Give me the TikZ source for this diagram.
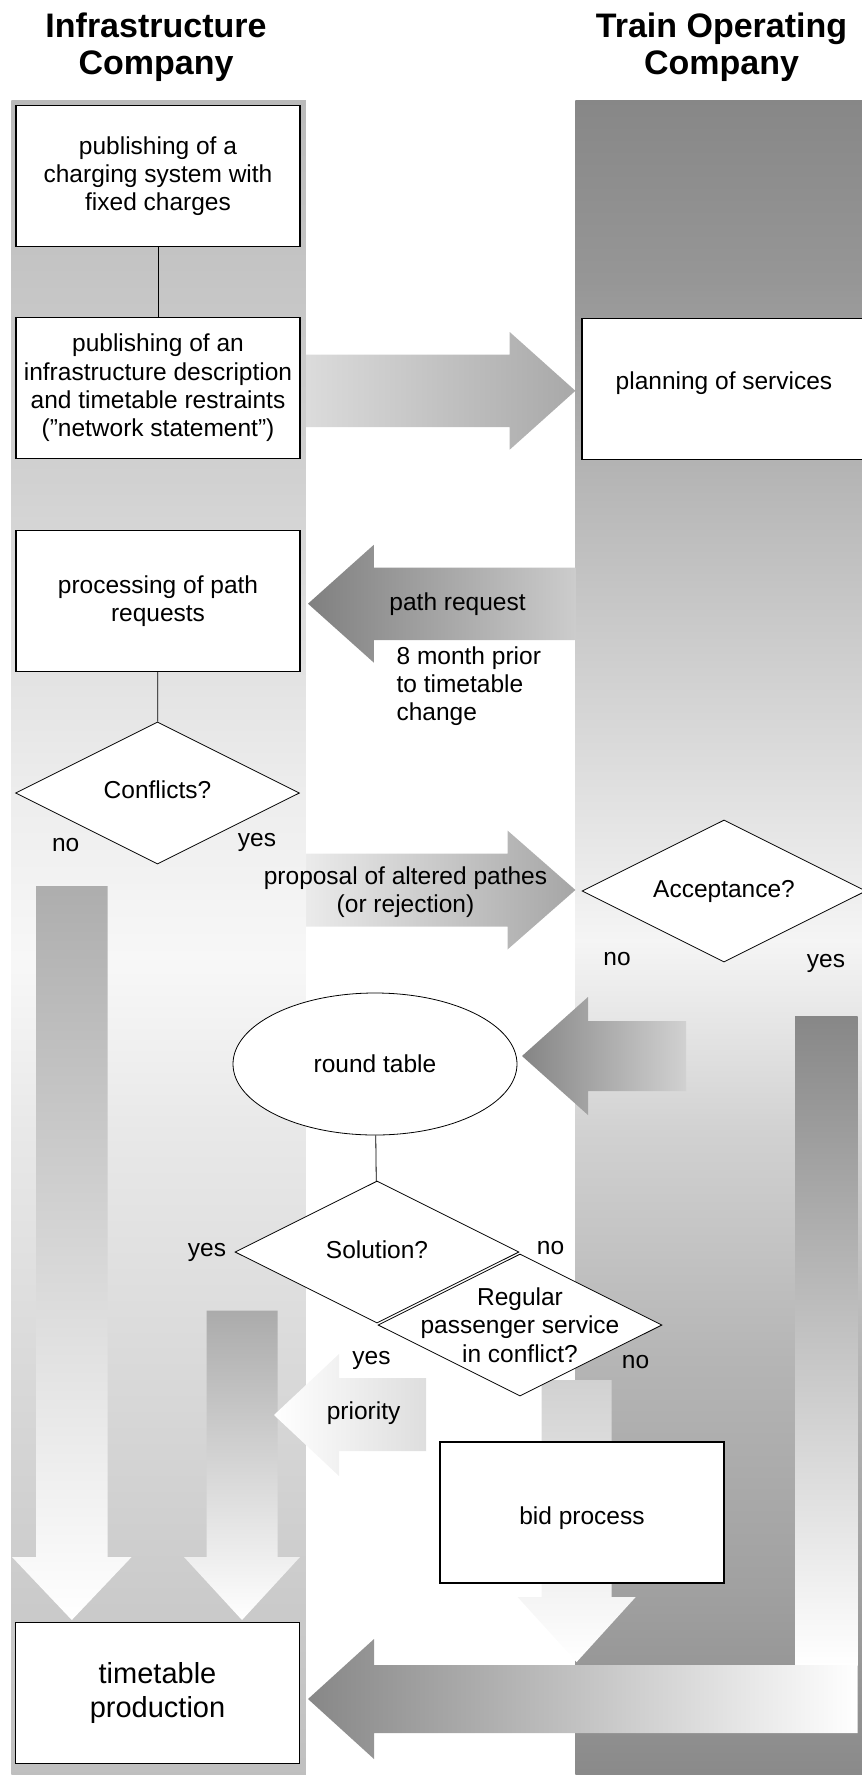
\documentclass[tikz,border=0pt]{standalone}
\usepackage{fontspec}
\setmainfont{Liberation Sans}
\usepackage{tikz}
\usetikzlibrary{shapes.geometric,positioning}

\newcommand{\flowfont}{\fontsize{24.5}{28.3}\selectfont}
\newcommand{\bigflowfont}{\fontsize{29}{34}\selectfont}
\newcommand{\lanefont}{\fontsize{34}{37.5}\selectfont\bfseries}

% lane shadings (path box = 25bp .. 75bp, 0bp at the bottom)
\pgfdeclareverticalshading{leftlane}{100bp}{%
  color(0bp)=(black!25); color(25bp)=(black!25); color(27.2bp)=(black!23);
  color(35.7bp)=(black!16); color(44.2bp)=(black!9); color(49.2bp)=(black!3);
  color(54.3bp)=(black!7); color(57.7bp)=(black!11); color(63.7bp)=(black!18);
  color(75bp)=(black!27); color(100bp)=(black!27)}
\pgfdeclareverticalshading{rightlane}{100bp}{%
  color(0bp)=(black!46); color(25bp)=(black!46); color(30.6bp)=(black!37);
  color(37.4bp)=(black!29); color(44.2bp)=(black!18); color(49.9bp)=(black!4);
  color(52.6bp)=(black!9); color(57.7bp)=(black!18); color(63.8bp)=(black!29);
  color(69.5bp)=(black!41); color(75bp)=(black!47); color(100bp)=(black!47)}

\begin{document}
\begin{tikzpicture}[x=1pt,y=-1pt]
\tikzstyle{procbox}=[rectangle,draw=black,line width=1.2pt,fill=white,
                     minimum width=284pt,minimum height=141pt,align=center,
                     inner sep=2pt,font=\flowfont]
\tikzstyle{decision}=[diamond,draw=black,line width=0.8pt,fill=white,
                      minimum width=284pt,minimum height=142pt,inner sep=0pt]
\tikzstyle{flowtext}=[font=\flowfont,align=center,inner sep=0pt]
\tikzstyle{link}=[draw=black,line width=0.8pt]

\useasboundingbox (0,0) rectangle (862,1775);

% --- lanes ---
\shade[shading=leftlane] (11.3,100) rectangle (305.8,1775);
\shade[shading=rightlane] (575.4,100) rectangle (862,1775);

\node[font=\lanefont,align=center] (infra) at (156,47) {Infrastructure\\Company};
\node[font=\lanefont,align=center] (toc) at (721.5,47) {Train Operating\\Company};

% --- block arrows ---
\shade[left color=black!14,right color=black!34]
  (306,354.5) -- (509.7,354.5) -- (509.7,332) -- (575.4,390.8)
  -- (509.7,449.7) -- (509.7,427) -- (306,427) -- cycle;
\shade[left color=black!50,right color=black!20]
  (575.4,567.5) -- (373.8,567.5) -- (373.8,544.8) -- (308,603.7)
  -- (373.8,662.6) -- (373.8,640) -- (575.4,640) -- cycle;
\shade[left color=black!8,right color=black!35]
  (306,853.5) -- (507.5,853.5) -- (507.5,830.5) -- (575.4,890)
  -- (507.5,949.5) -- (507.5,926.5) -- (306,926.5) -- cycle;
\shade[left color=black!48,right color=black!18]
  (686,1021) -- (588,1021) -- (588,997) -- (522,1056)
  -- (588,1115) -- (588,1091) -- (686,1091) -- cycle;

% no conflicts / solution: down to timetable
\shade[top color=black!32,bottom color=white]
  (36,886) -- (107.6,886) -- (107.6,1557) -- (131.6,1557) -- (71.8,1620)
  -- (12,1557) -- (36,1557) -- cycle;
\shade[top color=black!33,bottom color=white]
  (206.6,1310.5) -- (277.5,1310.5) -- (277.5,1557) -- (300,1557) -- (242,1620)
  -- (184,1557) -- (206.6,1557) -- cycle;

% regular service: no -> bid process
\shade[top color=black!18,bottom color=white]
  (541.5,1380) -- (611.7,1380) -- (611.7,1597) -- (635.7,1597) -- (576.6,1662)
  -- (517.6,1597) -- (541.5,1597) -- cycle;

% acceptance: yes -> timetable
\shade[top color=black!47,bottom color=white] (795,1016) rectangle (857.5,1665);
\shade[left color=black!47,right color=white]
  (857.5,1665) -- (374,1665) -- (374,1639) -- (308,1699)
  -- (374,1759) -- (374,1733) -- (857.5,1733) -- cycle;

% priority
\shade[left color=white,right color=black!13]
  (426,1378) -- (339,1378) -- (339,1354) -- (274,1415)
  -- (339,1476) -- (339,1451) -- (426,1451) -- cycle;

% --- infrastructure company ---
\node[procbox] (charging) at (158,176) {publishing of a\\charging system with\\fixed charges};
\node[procbox] (netstate) at (158,388) {publishing of an\\infrastructure description\\and timetable restraints\\(”network statement”)};
\node[procbox] (pathproc) at (158,601) {processing of path\\requests};
\node[decision] (conflicts) at (157.5,793) {};
\node[flowtext] (conflictsq) at (157.5,790) {Conflicts?};
\node[procbox,font=\bigflowfont] (timetable) at (157.5,1693) {timetable\\production};

\draw[link] (charging) -- (netstate);
\draw[link] (pathproc) -- (conflicts);

% --- train operating company ---
\node[procbox] (planning) at (724,389) {};
\node[flowtext] (planningt) at (724,383) {planning of services};
\node[decision] (acceptance) at (724,891) {};
\node[flowtext] (acceptanceq) at (acceptance) {Acceptance?};

% --- round table ---
\node[ellipse,draw=black,line width=0.8pt,fill=white,minimum width=284pt,
      minimum height=142pt,font=\flowfont] (roundtable) at (375,1064) {round table};
\node[decision] (solution) at (377,1252) {};
\node[decision] (regular) at (520,1325) {};
\node[flowtext] (solutionq) at (377,1250) {Solution?};
\node[flowtext] (regularq) at (regular) {Regular\\passenger service\\in conflict?};
\draw[link] (roundtable) -- (solution);

\node[procbox] (bid) at (582,1512.5) {};
\node[flowtext] (bidt) at (582,1518) {bid process};

% --- arrow texts and answers ---
\node[flowtext] (pathreq) at (457.6,603.7) {path request};
\node[flowtext,anchor=west,align=left] (prior) at (396.4,686) {8 month prior\\to timetable\\change};
\node[flowtext] (proposal) at (405.5,892) {proposal of altered pathes\\(or rejection)};
\node[flowtext] (priority) at (363.6,1413.6) {priority};

\node[flowtext] (conflictsno) at (65.7,845) {no};
\node[flowtext] (conflictsyes) at (257,842.5) {yes};
\node[flowtext] (acceptno) at (617,959) {no};
\node[flowtext] (acceptyes) at (826,963) {yes};
\node[flowtext] (solutionyes) at (207,1252) {yes};
\node[flowtext] (solutionno) at (550.5,1248) {no};
\node[flowtext] (regularyes) at (371.5,1360) {yes};
\node[flowtext] (regularno) at (635.5,1362.5) {no};

\end{tikzpicture}
\end{document}
